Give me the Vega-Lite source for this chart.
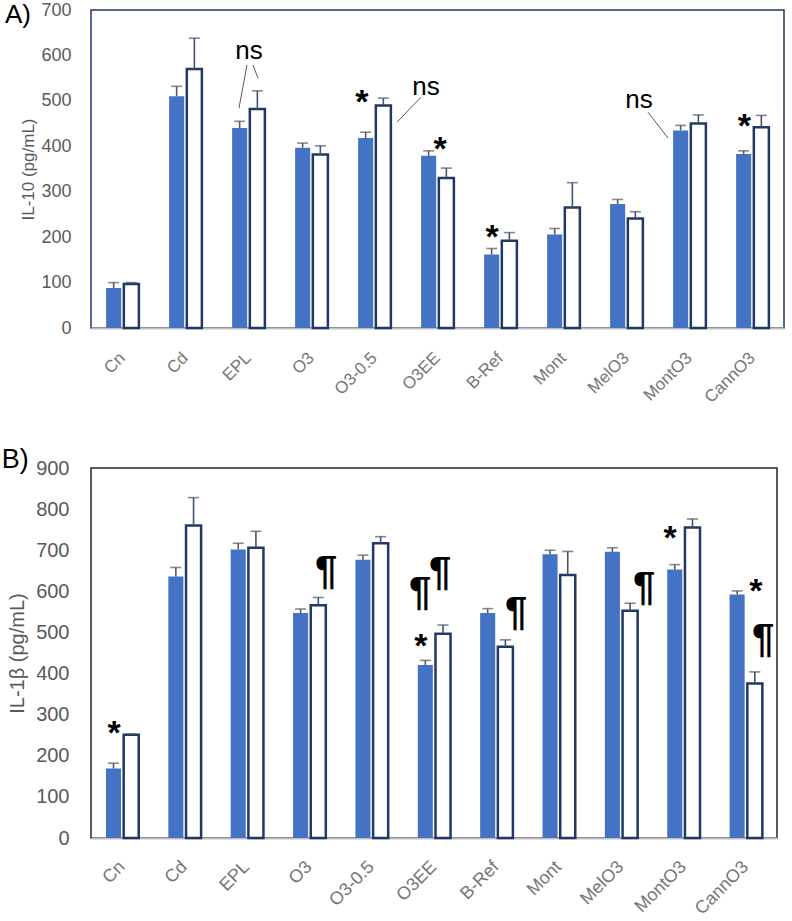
{
  "$schema": "https://vega.github.io/schema/vega-lite/v6.json",
  "padding": {"left": 0, "right": 0, "top": 0, "bottom": 0},
  "config": {"font": "Liberation Sans", "text": {"font": "Liberation Sans"}},
  "spacing": 38,
  "datasets": {
    "barsA": [
      {"g": "Cn", "s": "a", "v": 88, "hi": 100}, {"g": "Cn", "s": "b", "v": 97, "hi": 100},
      {"g": "Cd", "s": "a", "v": 510, "hi": 532}, {"g": "Cd", "s": "b", "v": 570, "hi": 638},
      {"g": "EPL", "s": "a", "v": 440, "hi": 455}, {"g": "EPL", "s": "b", "v": 482, "hi": 522},
      {"g": "O3", "s": "a", "v": 397, "hi": 407}, {"g": "O3", "s": "b", "v": 382, "hi": 401},
      {"g": "O3-0.5", "s": "a", "v": 418, "hi": 431}, {"g": "O3-0.5", "s": "b", "v": 490, "hi": 506},
      {"g": "O3EE", "s": "a", "v": 379, "hi": 390}, {"g": "O3EE", "s": "b", "v": 330, "hi": 352},
      {"g": "B-Ref", "s": "a", "v": 162, "hi": 175}, {"g": "B-Ref", "s": "b", "v": 192, "hi": 210},
      {"g": "Mont", "s": "a", "v": 206, "hi": 219}, {"g": "Mont", "s": "b", "v": 265, "hi": 320},
      {"g": "MelO3", "s": "a", "v": 273, "hi": 283}, {"g": "MelO3", "s": "b", "v": 241, "hi": 256},
      {"g": "MontO3", "s": "a", "v": 435, "hi": 446}, {"g": "MontO3", "s": "b", "v": 450, "hi": 469},
      {"g": "CannO3", "s": "a", "v": 383, "hi": 390}, {"g": "CannO3", "s": "b", "v": 442, "hi": 468}
    ],
    "barsB": [
      {"g": "Cn", "s": "a", "v": 169, "hi": 182}, {"g": "Cn", "s": "b", "v": 251, "hi": 253},
      {"g": "Cd", "s": "a", "v": 636, "hi": 658}, {"g": "Cd", "s": "b", "v": 760, "hi": 828},
      {"g": "EPL", "s": "a", "v": 702, "hi": 717}, {"g": "EPL", "s": "b", "v": 706, "hi": 746},
      {"g": "O3", "s": "a", "v": 547, "hi": 557}, {"g": "O3", "s": "b", "v": 566, "hi": 585},
      {"g": "O3-0.5", "s": "a", "v": 677, "hi": 688}, {"g": "O3-0.5", "s": "b", "v": 717, "hi": 733},
      {"g": "O3EE", "s": "a", "v": 421, "hi": 432}, {"g": "O3EE", "s": "b", "v": 497, "hi": 518},
      {"g": "B-Ref", "s": "a", "v": 547, "hi": 558}, {"g": "B-Ref", "s": "b", "v": 465, "hi": 482},
      {"g": "Mont", "s": "a", "v": 690, "hi": 700}, {"g": "Mont", "s": "b", "v": 640, "hi": 697},
      {"g": "MelO3", "s": "a", "v": 696, "hi": 706}, {"g": "MelO3", "s": "b", "v": 553, "hi": 571},
      {"g": "MontO3", "s": "a", "v": 653, "hi": 665}, {"g": "MontO3", "s": "b", "v": 755, "hi": 776},
      {"g": "CannO3", "s": "a", "v": 592, "hi": 601}, {"g": "CannO3", "s": "b", "v": 376, "hi": 404}
    ],
    "annA": [
      {"px": 2.508, "py": 610, "t": "ns", "k": "ns"},
      {"px": 5.317, "py": 530, "t": "ns", "k": "ns"},
      {"px": 8.698, "py": 502, "t": "ns", "k": "ns"},
      {"px": 4.30, "py": 506, "t": "*", "k": "star"},
      {"px": 5.54, "py": 403, "t": "*", "k": "star"},
      {"px": 6.365, "py": 209, "t": "*", "k": "star"},
      {"px": 10.37, "py": 453, "t": "*", "k": "star"}
    ],
    "linesA": [
      {"x1": 2.476, "y1": 579, "x2": 2.349, "y2": 484},
      {"x1": 2.571, "y1": 579, "x2": 2.651, "y2": 550},
      {"x1": 5.238, "y1": 508, "x2": 4.857, "y2": 453},
      {"x1": 8.841, "y1": 475, "x2": 9.159, "y2": 418}
    ],
    "annB": [
      {"px": 0.369, "py": 265, "t": "*", "k": "star"},
      {"px": 5.29, "py": 477, "t": "*", "k": "star"},
      {"px": 9.285, "py": 739, "t": "*", "k": "star"},
      {"px": 10.66, "py": 611, "t": "*", "k": "star"},
      {"px": 3.77, "py": 635, "t": "¶", "k": "pil"},
      {"px": 5.276, "py": 584, "t": "¶", "k": "pil"},
      {"px": 5.60, "py": 632, "t": "¶", "k": "pil"},
      {"px": 6.815, "py": 535, "t": "¶", "k": "pil"},
      {"px": 8.868, "py": 596, "t": "¶", "k": "pil"},
      {"px": 10.776, "py": 469, "t": "¶", "k": "pil"}
    ]
  },
  "vconcat": [
    {
      "width": 693,
      "height": 318,
      "view": {"stroke": "#1F3864", "strokeWidth": 1.5},
      "title": {"text": "A)", "orient": "left", "anchor": "end", "angle": 0, "align": "left", "baseline": "top", "fontSize": 26, "fontWeight": "normal", "color": "#000000", "offset": -11, "dy": 1},
      "resolve": {"scale": {"x": "independent"}},
      "layer": [
        {
          "data": {"name": "barsA"},
          "layer": [
            {
              "transform": [{"filter": "datum.s === 'a'"}],
              "mark": {"type": "bar", "color": "#4472C4"},
              "encoding": {
                "x": {"field": "g", "type": "nominal", "scale": {"domain": ["Cn", "Cd", "EPL", "O3", "O3-0.5", "O3EE", "B-Ref", "Mont", "MelO3", "MontO3", "CannO3"], "paddingInner": 0.48, "paddingOuter": 0.24},
                  "axis": {"title": null, "labelAngle": -45, "labelAlign": "right", "labelBaseline": "middle", "labelFontSize": 17, "labelColor": "#767676", "ticks": false, "domainColor": "#BFBFBF", "domainWidth": 2, "labelPadding": 27}},
                "xOffset": {"field": "s", "type": "nominal", "scale": {"domain": ["a", "b"], "paddingInner": 0.15, "paddingOuter": 0}},
                "y": {"field": "v", "type": "quantitative", "scale": {"domain": [0, 700], "nice": false},
                  "axis": {"title": "IL-10  (pg/mL)", "values": [0, 100, 200, 300, 400, 500, 600, 700], "ticks": false, "grid": false, "domain": false, "offset": 14, "labelFontSize": 18, "labelColor": "#595959", "labelPadding": 6, "titleFontSize": 17, "titleColor": "#595959", "titleFontWeight": "normal", "titlePadding": 3}}
              }
            },
            {
              "transform": [{"filter": "datum.s === 'b'"}],
              "mark": {"type": "bar", "fill": "#FFFFFF", "stroke": "#1F3864", "strokeWidth": 2.5},
              "encoding": {
                "x": {"field": "g", "type": "nominal"},
                "xOffset": {"field": "s", "type": "nominal"},
                "y": {"field": "v", "type": "quantitative", "title": "IL-10  (pg/mL)"}
              }
            },
            {
              "mark": {"type": "rule", "strokeWidth": 1.6},
              "encoding": {
                "x": {"field": "g", "type": "nominal"},
                "xOffset": {"field": "s", "type": "nominal"},
                "y": {"field": "v", "type": "quantitative", "title": "IL-10  (pg/mL)"},
                "y2": {"field": "hi"},
                "color": {"field": "s", "type": "nominal", "scale": {"domain": ["a", "b"], "range": ["#595959", "#44546A"]}, "legend": null}
              }
            },
            {
              "mark": {"type": "tick", "size": 11, "thickness": 1.6},
              "encoding": {
                "x": {"field": "g", "type": "nominal"},
                "xOffset": {"field": "s", "type": "nominal"},
                "y": {"field": "hi", "type": "quantitative", "title": "IL-10  (pg/mL)"},
                "color": {"field": "s", "type": "nominal", "scale": {"domain": ["a", "b"], "range": ["#595959", "#44546A"]}, "legend": null}
              }
            }
          ]
        },
        {
          "layer": [
            {
              "data": {"name": "linesA"},
              "mark": {"type": "rule", "color": "#595959", "strokeWidth": 1},
              "encoding": {
                "x": {"field": "x1", "type": "quantitative", "scale": {"domain": [0, 11], "nice": false, "zero": false}, "axis": null},
                "x2": {"field": "x2"},
                "y": {"field": "y1", "type": "quantitative", "title": "IL-10  (pg/mL)"},
                "y2": {"field": "y2"}
              }
            },
            {
              "data": {"name": "annA"},
              "transform": [{"filter": "datum.k === 'ns'"}],
              "mark": {"type": "text", "fontSize": 26, "color": "#000000", "baseline": "middle", "align": "center"},
              "encoding": {
                "x": {"field": "px", "type": "quantitative", "scale": {"domain": [0, 11], "nice": false, "zero": false}, "axis": null},
                "y": {"field": "py", "type": "quantitative", "title": "IL-10  (pg/mL)"},
                "text": {"field": "t"}
              }
            },
            {
              "data": {"name": "annA"},
              "transform": [{"filter": "datum.k === 'star'"}],
              "mark": {"type": "text", "fontSize": 34, "fontWeight": "bold", "color": "#000000", "baseline": "middle", "align": "center", "dy": 5},
              "encoding": {
                "x": {"field": "px", "type": "quantitative", "scale": {"domain": [0, 11], "nice": false, "zero": false}, "axis": null},
                "y": {"field": "py", "type": "quantitative", "title": "IL-10  (pg/mL)"},
                "text": {"field": "t"}
              }
            }
          ]
        }
      ]
    },
    {
      "width": 686,
      "height": 370,
      "view": {"stroke": "#262626", "strokeWidth": 1.5},
      "title": {"text": "B)", "orient": "left", "anchor": "end", "angle": 0, "align": "left", "baseline": "top", "fontSize": 27, "fontWeight": "normal", "color": "#000000", "offset": -21, "dy": -11},
      "resolve": {"scale": {"x": "independent"}},
      "layer": [
        {
          "data": {"name": "barsB"},
          "layer": [
            {
              "transform": [{"filter": "datum.s === 'a'"}],
              "mark": {"type": "bar", "color": "#4472C4"},
              "encoding": {
                "x": {"field": "g", "type": "nominal", "scale": {"domain": ["Cn", "Cd", "EPL", "O3", "O3-0.5", "O3EE", "B-Ref", "Mont", "MelO3", "MontO3", "CannO3"], "paddingInner": 0.48, "paddingOuter": 0.24},
                  "axis": {"title": null, "labelAngle": -45, "labelAlign": "right", "labelBaseline": "middle", "labelFontSize": 18, "labelColor": "#767676", "ticks": false, "domainColor": "#BFBFBF", "domainWidth": 2, "labelPadding": 26}},
                "xOffset": {"field": "s", "type": "nominal", "scale": {"domain": ["a", "b"], "paddingInner": 0.15, "paddingOuter": 0}},
                "y": {"field": "v", "type": "quantitative", "scale": {"domain": [0, 900], "nice": false},
                  "axis": {"title": "IL-1β (pg/mL)", "values": [0, 100, 200, 300, 400, 500, 600, 700, 800, 900], "ticks": false, "grid": false, "domain": false, "offset": 16, "labelFontSize": 20, "labelColor": "#595959", "labelPadding": 6, "titleFontSize": 20, "titleColor": "#595959", "titleFontWeight": "normal", "titlePadding": 8}}
              }
            },
            {
              "transform": [{"filter": "datum.s === 'b'"}],
              "mark": {"type": "bar", "fill": "#FFFFFF", "stroke": "#1F3864", "strokeWidth": 2.5},
              "encoding": {
                "x": {"field": "g", "type": "nominal"},
                "xOffset": {"field": "s", "type": "nominal"},
                "y": {"field": "v", "type": "quantitative", "title": "IL-1β (pg/mL)"}
              }
            },
            {
              "mark": {"type": "rule", "strokeWidth": 1.6},
              "encoding": {
                "x": {"field": "g", "type": "nominal"},
                "xOffset": {"field": "s", "type": "nominal"},
                "y": {"field": "v", "type": "quantitative", "title": "IL-1β (pg/mL)"},
                "y2": {"field": "hi"},
                "color": {"field": "s", "type": "nominal", "scale": {"domain": ["a", "b"], "range": ["#595959", "#44546A"]}, "legend": null}
              }
            },
            {
              "mark": {"type": "tick", "size": 11, "thickness": 1.6},
              "encoding": {
                "x": {"field": "g", "type": "nominal"},
                "xOffset": {"field": "s", "type": "nominal"},
                "y": {"field": "hi", "type": "quantitative", "title": "IL-1β (pg/mL)"},
                "color": {"field": "s", "type": "nominal", "scale": {"domain": ["a", "b"], "range": ["#595959", "#44546A"]}, "legend": null}
              }
            }
          ]
        },
        {
          "data": {"name": "annB"},
          "layer": [
            {
              "transform": [{"filter": "datum.k === 'star'"}],
              "mark": {"type": "text", "fontSize": 34, "fontWeight": "bold", "color": "#000000", "baseline": "middle", "align": "center", "dy": 5},
              "encoding": {
                "x": {"field": "px", "type": "quantitative", "scale": {"domain": [0, 11], "nice": false, "zero": false}, "axis": null},
                "y": {"field": "py", "type": "quantitative", "title": "IL-1β (pg/mL)"},
                "text": {"field": "t"}
              }
            },
            {
              "transform": [{"filter": "datum.k === 'pil'"}],
              "mark": {"type": "text", "fontSize": 40, "fontWeight": "bold", "color": "#000000", "baseline": "middle", "align": "center", "dy": -5},
              "encoding": {
                "x": {"field": "px", "type": "quantitative", "scale": {"domain": [0, 11], "nice": false, "zero": false}, "axis": null},
                "y": {"field": "py", "type": "quantitative", "title": "IL-1β (pg/mL)"},
                "text": {"field": "t"}
              }
            }
          ]
        }
      ]
    }
  ]
}
